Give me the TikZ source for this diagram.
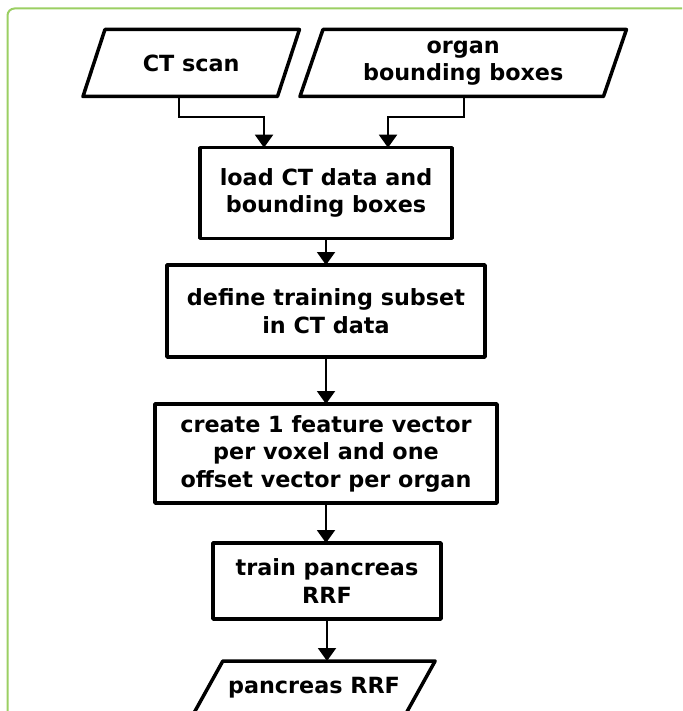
\documentclass[tikz,border=0pt]{standalone}
\usepackage{fontspec}
\setmainfont{DejaVu Sans}
\usetikzlibrary{arrows.meta}
\definecolor{framegreen}{HTML}{9BCF63}
\begin{document}
\begin{tikzpicture}[x=1pt,y=-1pt,
  txt/.style={font=\fontsize{22.3}{27.5}\selectfont\bfseries, align=center, inner sep=0pt, outer sep=0pt},
  procbox/.style={txt, draw, line width=3.5pt, line join=round},
  iobox/.style={draw, line width=3.5pt, line join=round},
  arr/.style={line width=2pt, -{Triangle[width=18pt,length=13pt]}},
  frameline/.style={draw=framegreen, line width=2pt, rounded corners=7pt}]
\useasboundingbox (0,0) rectangle (682,711);
\begin{scope}
\clip (0,0) rectangle (682,711);
\draw[frameline] (7.5,730) -- (7.5,8.5) -- (700,8.5);

% input nodes
\node[txt, minimum width=194.5pt, minimum height=67pt] (ct) at (191.2,63) {CT scan};
\draw[iobox] ([xshift=11pt]ct.north west) -- ([xshift=11pt]ct.north east) -- ([xshift=-11pt]ct.south east) -- ([xshift=-11pt]ct.south west) -- cycle;
\node[txt, minimum width=303.5pt, minimum height=67pt] (org) at (463.2,63) {organ\\bounding boxes};
\draw[iobox] ([xshift=11.5pt]org.north west) -- ([xshift=11.5pt]org.north east) -- ([xshift=-11.5pt]org.south east) -- ([xshift=-11.5pt]org.south west) -- cycle;

% process nodes
\node[procbox, minimum width=252pt, minimum height=90.6pt] (load) at (326,193) {load CT data and\\bounding boxes};
\node[procbox, minimum width=318pt, minimum height=92pt] (define) at (326,311) {define training subset\\in CT data};
\node[procbox, minimum width=342pt, minimum height=99pt] (create) at (326,453.5) {create 1 feature vector\\per voxel and one\\offset vector per organ};
\node[procbox, minimum width=228pt, minimum height=76pt] (train) at (327,581) {train pancreas\\RRF};

% output node
\node[txt, minimum width=212.3pt, minimum height=54pt] (pan) at (314,688) {pancreas RRF};
\draw[iobox] ([xshift=15pt]pan.north west) -- ([xshift=15pt]pan.north east) -- ([xshift=-15pt]pan.south east) -- ([xshift=-15pt]pan.south west) -- cycle;

% connectors
\draw[arr] ([xshift=-12pt]ct.south) -- ++(0,21) -| ([xshift=-62pt]load.north);
\draw[arr] ([xshift=0.8pt]org.south) -- ++(0,21) -| ([xshift=62pt]load.north);
\draw[arr] (load.south) -- (load.south |- define.north);
\draw[arr] (define.south) -- (define.south |- create.north);
\draw[arr] (create.south) -- (create.south |- train.north);
\draw[arr] (train.south) -- (train.south |- pan.north);
\end{scope}
\end{tikzpicture}
\end{document}
